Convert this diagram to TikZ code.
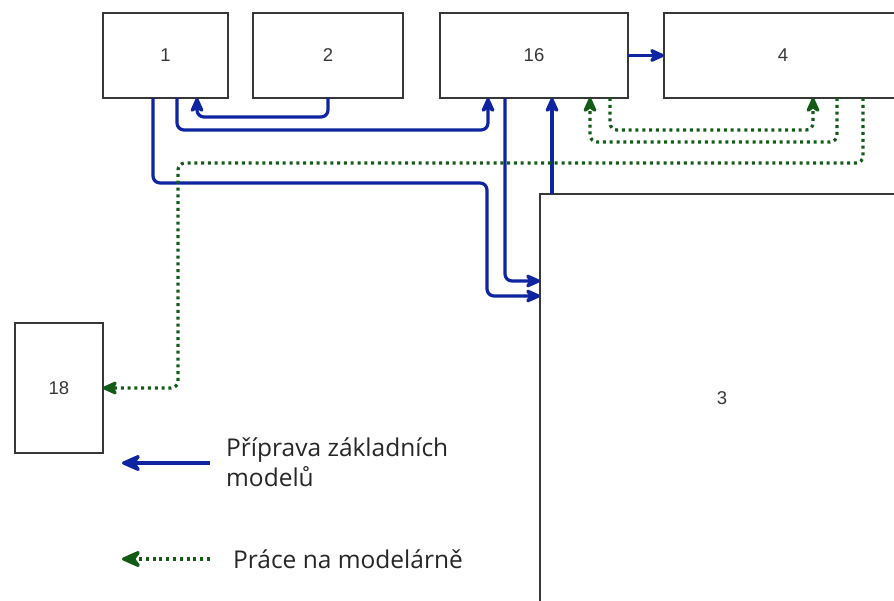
\documentclass[tikz,border=0pt]{standalone}
\usepackage{fontspec}
\setmainfont{Liberation Sans}
\newfontfamily\legendfont{Open Sans}
\usetikzlibrary{arrows.meta}
\definecolor{bblue}{RGB}{14,36,160}
\definecolor{dgreen}{RGB}{18,92,24}
\definecolor{boxgray}{RGB}{55,55,55}
\tikzset{
  box/.style={draw=boxgray, line width=1.8pt, rectangle, inner sep=0pt, outer sep=0pt,
    anchor=north west, text=boxgray, font=\fontsize{18.5}{20}\selectfont},
  tipb/.tip={Stealth[length=19pt,width=17pt,inset=6pt,round]},
  bline/.style={draw=bblue, line width=3.2pt, rounded corners=7pt, -tipb},
  gline/.style={draw=dgreen, line width=3.2pt, rounded corners=7pt,
    dash pattern=on 3pt off 3.8pt, -tipb},
  bigtip/.style={-{Stealth[length=23pt,width=20pt,inset=7pt,round]}},
  legtext/.style={font=\legendfont\fontsize{24.5}{30}\selectfont, text=black!85, anchor=west, inner sep=0pt, align=left}
}
\begin{document}
\begin{tikzpicture}[x=1pt,y=-1pt]
\useasboundingbox (0,0) rectangle (894,601);
\node[box, minimum width=125pt, minimum height=85pt] (b1) at (103,13) {1};
\node[box, minimum width=150pt, minimum height=85pt] (b2) at (253,13) {2};
\node[box, minimum width=188pt, minimum height=85pt] (b16) at (440,13) {16};
\node[box, minimum width=238pt, minimum height=85pt] (b4) at (664,13) {4};
\node[box, minimum width=364pt, minimum height=408pt] (b3) at (540,194) {3};
\node[box, minimum width=88pt, minimum height=130pt] (b18) at (15,323) {18};

% blue connectors
\draw[bline] (b2.south) -- ++(0,19) -| ([xshift=-31pt]b1.south east);
\draw[bline] ([xshift=-51pt]b1.south east) -- ++(0,32) -| ([xshift=48pt]b16.south west);
\coordinate (c1) at (487,183);
\draw[bline] ([xshift=50pt]b1.south west) |- (c1) |- ([yshift=-102pt]b3.north west);
\draw[bline] ([xshift=65pt]b16.south west) |- ([yshift=-87pt]b3.north west);
\draw[bline] ([xshift=12pt]b3.north west) -- ([xshift=112pt]b16.south west);
\draw[bline] (b16.east) -- (b4.west);

% green dotted connectors
\draw[gline] ([xshift=-18pt]b16.south east) -- ++(0,32) -| ([xshift=149pt]b4.south west);
\draw[gline] ([xshift=173pt]b4.south west) -- ++(0,44) -| ([xshift=-38pt]b16.south east);
\coordinate (c2) at (178,163);
\draw[gline] ([xshift=199pt]b4.south west) |- (c2) |- (b18.east);

% legend
\coordinate (l1s) at (210,463);
\coordinate (l1e) at (122,463);
\coordinate (l2s) at (210,559);
\coordinate (l2e) at (122,559);
\draw[bline, bigtip] (l1s) -- (l1e);
\draw[gline, bigtip] (l2s) -- (l2e);
\node[legtext] (t1) at (226,462) {Příprava základních\\modelů};
\node[legtext] (t2) at (233,559) {Práce na modelárně};
\end{tikzpicture}
\end{document}
